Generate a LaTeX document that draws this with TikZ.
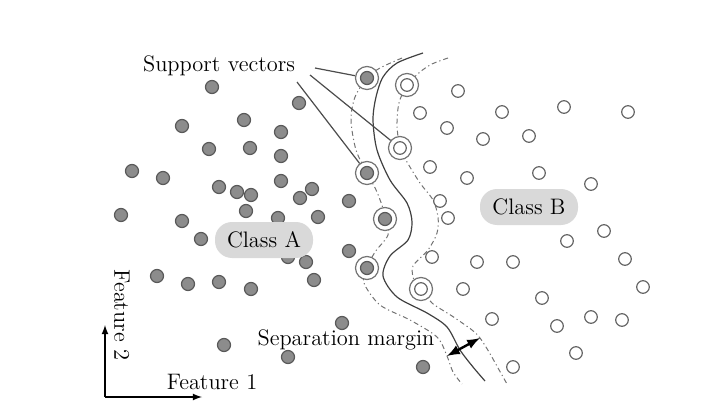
\documentclass[tikz,border=0pt]{standalone}
\usepackage{tikz}
\usetikzlibrary{
    arrows,
    calc,
    shapes,
    positioning
}
\tikzset{
    dota/.style={circle, draw=black!65, fill=black!45, line width=0.6pt, inner sep=0pt, minimum size=6.5pt},
    dotb/.style={circle, draw=black!60, fill=white, line width=0.6pt, inner sep=0pt, minimum size=6.3pt},
    svring/.style={circle, draw=black!55, fill=white, line width=0.6pt, inner sep=0pt, minimum size=11.5pt},
    marginline/.style={black!55, line width=0.5pt, dash pattern=on 2.5pt off 1.5pt on 0.6pt off 1.5pt},
    boundary/.style={black!75, line width=0.6pt},
    classbox/.style={rounded corners=8.5pt, fill=black!15, minimum width=49pt, minimum height=18pt, font=\fontsize{11.2}{13}\selectfont},
    lbl/.style={font=\fontsize{11.2}{13}\selectfont, inner sep=1pt}
}

\begin{document}
\begin{tikzpicture}[x=0.5pt, y=-0.5pt]
    \useasboundingbox (0, 0) rectangle (728, 401);

    % margins and separating curve
    \draw[marginline] plot[smooth] coordinates {(402, 58) (380, 68) (367, 78) (355, 97) (351, 120) (356, 150) (367, 173) (377, 192) (386, 218) (388, 235) (375, 252) (367, 268) (364, 283) (380, 305) (410, 320) (437, 337) (447, 356) (453, 372) (462, 384)};
    \draw[marginline] plot[smooth] coordinates {(448, 58) (432, 64) (420, 72) (407, 85) (399, 103) (397, 125) (400, 148) (407, 162) (420, 183) (433, 200) (438, 217) (437, 233) (428, 250) (413, 266) (414, 280) (422, 289) (432, 303) (452, 316) (472, 330) (480, 338) (489, 352) (498, 368) (507, 384)};
    \draw[boundary] plot[smooth] coordinates {(423, 53) (397, 63) (383, 77) (376, 97) (373, 120) (377, 150) (390, 180) (407, 203) (412, 222) (408, 240) (390, 256) (383, 276) (397, 297) (427, 313) (447, 327) (460, 350) (473, 367) (485, 381)};

    % class A
    \foreach \x/\y [count=\i] in {212/87, 299/103, 182/126, 244/120, 281/132, 209/149, 250/148, 281/156,
        132/171, 163/178, 219/187, 237/192, 251/195, 281/181, 312/189, 300/198, 246/211, 121/215,
        182/221, 278/218, 318/217, 349/201, 201/239, 349/251, 288/257, 306/262, 157/276, 188/284,
        219/282, 251/289, 314/280, 342/323, 224/345, 288/357, 423/367}
        \node[dota] (a\i) at (\x, \y) {};

    % class B
    \foreach \x/\y [count=\i] in {458/91, 420/113, 502/112, 447/128, 483/139, 529/136, 564/107, 628/112,
        430/167, 467/178, 539/173, 591/184, 440/201, 448/218, 604/231, 567/241, 432/257, 477/262,
        513/262, 625/259, 643/287, 463/289, 542/298, 492/319, 591/317, 557/326, 622/320, 576/353, 513/367}
        \node[dotb] (b\i) at (\x, \y) {};

    % support vectors
    \foreach \x/\y [count=\i] in {367/78, 367/173, 385/219, 367/268} {
        \node[svring] (sa\i) at (\x, \y) {};
        \node[dota] (ca\i) at (sa\i) {};
    }
    \foreach \x/\y [count=\i] in {407/85, 400/148, 421/289} {
        \node[svring] (sb\i) at (\x, \y) {};
        \node[dotb] (cb\i) at (sb\i) {};
    }

    \node[classbox] (clA) at (264, 240) {Class A};
    \node[classbox] (clB) at (529, 207) {Class B};

    \node[lbl] (sv) at (219, 66) {Support vectors};
    \coordinate (p1) at (315, 68);
    \coordinate (p2) at (310, 75);
    \coordinate (p3) at (297, 82);
    \draw[black!70, line width=0.6pt]
    (p1) -- (sa1)
    (p2) -- (sb2)
    (p3) -- (sa2);

    \node[lbl] (sm) at (346, 340) {Separation margin};
    \coordinate (m1) at (447, 356);
    \coordinate (m2) at (480, 338);
    \draw[<->, >=latex, line width=1.2pt] (m1) -- (m2);

    % axes
    \coordinate (o) at (105, 397);
    \coordinate (xe) at (202, 397);
    \coordinate (ye) at (105, 325);
    \draw[->, >=latex, line width=0.6pt] (o) -- (xe);
    \draw[->, >=latex, line width=0.6pt] (o) -- (ye);
    \node[lbl] (f1) at (212, 382) {Feature 1};
    \node[lbl, rotate=-90] (f2) at (122, 315) {Feature 2};
\end{tikzpicture}
\end{document}
